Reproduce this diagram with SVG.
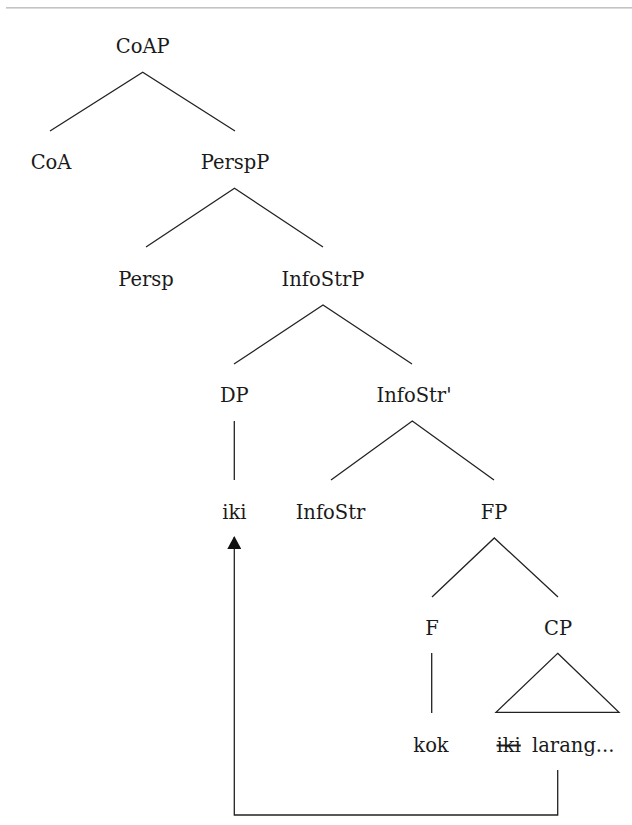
<svg xmlns="http://www.w3.org/2000/svg" width="632" height="825" viewBox="0 0 632 825">
<style>
  text { font-family: "DejaVu Serif", "Liberation Serif", serif; font-size: 19.5px; fill: #1a1a1a; text-anchor: middle; }
  .e { stroke: #222; stroke-width: 1.3; fill: none; }
  .s { text-decoration: line-through; }
</style>
<defs>
  <marker id="ah" markerWidth="14" markerHeight="14" refX="12" refY="7" orient="auto" markerUnits="userSpaceOnUse" viewBox="0 0 14 14">
    <path d="M13 7 L0 0 L0 14 Z" fill="#111"/>
  </marker>
</defs>
<rect x="6" y="7" width="626" height="1.6" fill="#c4c4c4"/>
<g id="connectors">
  <polyline class="e" points="50,131 142.7,72.3 235,131"/>
  <polyline class="e" points="146,247 234.5,188.3 323,247"/>
  <polyline class="e" points="234,364 323,305 412,364"/>
  <line class="e" x1="234.3" y1="421" x2="234.3" y2="480"/>
  <polyline class="e" points="331,480 412.3,421 494,480"/>
  <polyline class="e" points="432,597 494.3,538 558,597"/>
  <line class="e" x1="431.7" y1="653" x2="431.7" y2="713"/>
  <polygon class="e" points="557.7,653.3 619,712.3 496,712.3"/>
  <path class="e" d="M557.7,770 V815 H234.3 V537" marker-end="url(#ah)"/>
</g>
<g id="CoAP"><text x="142.7" y="53">CoAP</text></g>
<g id="CoA"><text x="51" y="169">CoA</text></g>
<g id="PerspP"><text x="235" y="169">PerspP</text></g>
<g id="Persp"><text x="146" y="285.5">Persp</text></g>
<g id="InfoStrP"><text x="323" y="285.5">InfoStrP</text></g>
<g id="DP"><text x="234.3" y="402">DP</text></g>
<g id="InfoStrBar"><text x="414" y="402">InfoStr'</text></g>
<g id="iki"><text x="234.3" y="518.5">iki</text></g>
<g id="InfoStr"><text x="330.5" y="518.5">InfoStr</text></g>
<g id="FP"><text x="494" y="518.5">FP</text></g>
<g id="F"><text x="432" y="635">F</text></g>
<g id="CP"><text x="558" y="635">CP</text></g>
<g id="kok"><text x="431" y="751.5">kok</text></g>
<g id="ikilarang"><text x="555.5" y="751.5"><tspan class="s">iki</tspan><tspan dx="5"> larang...</tspan></text></g>
</svg>
